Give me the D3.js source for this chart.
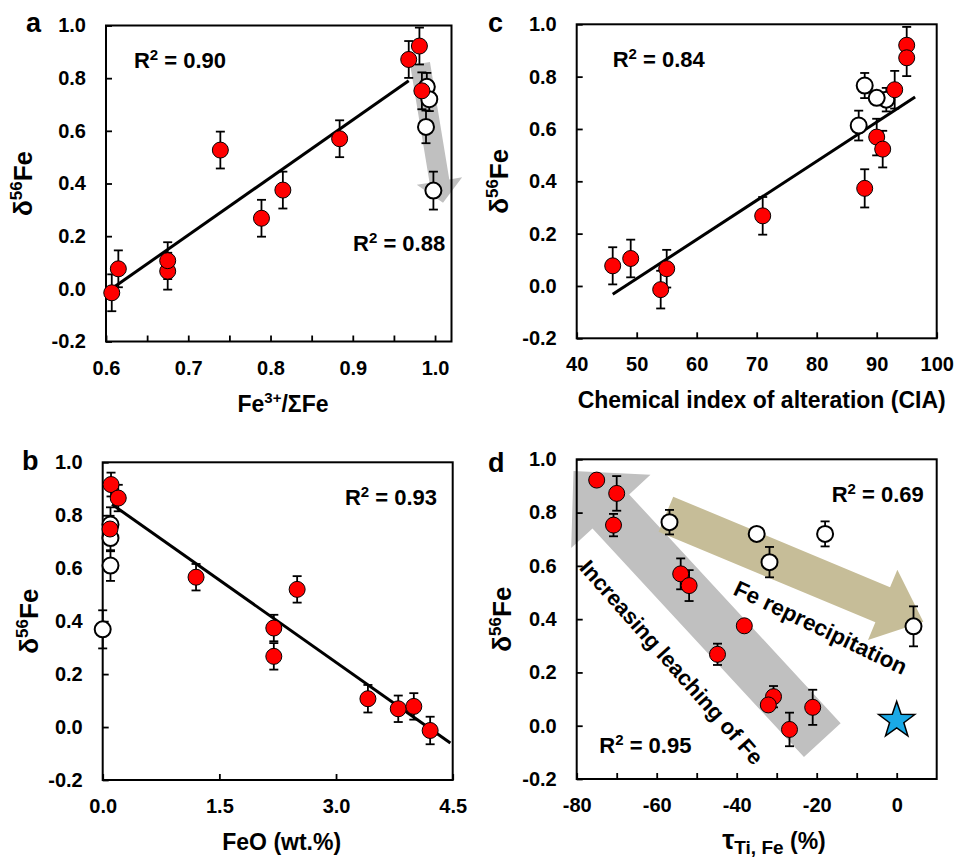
<!DOCTYPE html>
<html>
<head>
<meta charset="utf-8">
<script src="https://cdn.jsdelivr.net/npm/d3@7"></script>
<style>
  body { margin: 0; background: #fff; }
  svg { display: block; }
  text { font-family: "Liberation Sans", Arial, sans-serif; font-weight: bold; fill: #000; }
</style>
</head>
<body>
<div id="chart"></div>
<script>
// ---- data: d56Fe of the profile samples vs. four weathering indices ----
const yTicks = [-0.2, 0, 0.2, 0.4, 0.6, 0.8, 1.0];

// panel a: Fe3+/SumFe
const aRedX = [0.607, 0.615, 0.675, 0.675, 0.739, 0.789, 0.815, 0.884, 0.968, 0.981, 0.984];
const aRedY = [-0.015, 0.076, 0.067, 0.107, 0.527, 0.268, 0.375, 0.57, 0.871, 0.922, 0.752];
const aRedErr = [0.07, 0.07, 0.07, 0.07, 0.07, 0.07, 0.07, 0.07, 0.07, 0.07, 0.07];
const aOpenX = [0.990, 0.993, 0.989, 0.998];
const aOpenY = [0.767, 0.72, 0.615, 0.373];
const aOpenErr = [0.053, 0.045, 0.062, 0.072];
const aFit = [[0.609, 0.005], [0.968, 0.79]];
const aXTicks = [0.6, 0.65, 0.7, 0.75, 0.8, 0.85, 0.9, 0.95, 1.0];

// panel b: FeO (wt.%)
const bRedX = [0.107, 0.2, 0.094, 1.2, 2.2, 2.2, 2.5, 3.41, 3.8, 4.0, 4.21];
const bRedY = [0.916, 0.865, 0.748, 0.566, 0.374, 0.267, 0.52, 0.107, 0.069, 0.078, -0.013];
const bRedErr = [0.045, 0.05, 0.05, 0.05, 0.05, 0.05, 0.05, 0.052, 0.05, 0.05, 0.052];
const bOpenX = [0.1, 0.1, 0.1, 0.0];
const bOpenY = [0.765, 0.714, 0.61, 0.369];
const bOpenErr = [0.065, 0.05, 0.058, 0.072];
const bFit = [[0.12, 0.841], [4.47, -0.06]];
const bXTicks = [0, 1.5, 3.0, 4.5];

// panel c: chemical index of alteration
const cRedX = [46, 49, 54, 55, 71, 88, 90, 91, 93, 95, 95];
const cRedY = [0.077, 0.105, -0.014, 0.066, 0.268, 0.373, 0.569, 0.523, 0.75, 0.92, 0.872];
const cRedErr = [0.071, 0.072, 0.072, 0.072, 0.072, 0.073, 0.07, 0.07, 0.072, 0.07, 0.07];
const cOpenX = [91.6, 88, 90, 87];
const cOpenY = [0.712, 0.766, 0.719, 0.613];
const cOpenErr = [0.045, 0.048, 0, 0.057];
const cFit = [[46, -0.032], [96.4, 0.722]];
const cXTicks = [40, 50, 60, 70, 80, 90, 100];

// panel d: tau Ti,Fe (%)
const dRedX = [-75, -70, -70.8, -54, -51.9, -38.1, -44.8, -30.8, -32.1, -21, -26.8];
const dRedY = [0.922, 0.872, 0.753, 0.57, 0.526, 0.375, 0.268, 0.109, 0.078, 0.069, -0.014];
const dRedErr = [0, 0.065, 0.042, 0.058, 0.058, 0, 0.04, 0.04, 0, 0.066, 0.063];
const dOpenX = [-56.8, -35, -31.8, -17.9, 4.2];
const dOpenY = [0.764, 0.72, 0.614, 0.72, 0.373];
const dOpenErr = [0.046, 0, 0.057, 0.047, 0.075];
const dStar = [0, 0.02];
const dXTicks = [-80, -70, -60, -50, -40, -30, -20, -10, 0];

const svg = d3.select("#chart").append("svg")
  .attr("width", 957)
  .attr("height", 858);

function zip(xs, ys, es) {
  return xs.map((x, i) => ({ x: x, y: ys[i], e: es[i] }));
}

// wide block arrow as a polygon, ends given in pixels
function arrowShape(x0, y0, x1, y1, sw, hw, hl) {
  const L = Math.hypot(x1 - x0, y1 - y0);
  const ux = (x1 - x0) / L, uy = (y1 - y0) / L;
  const nx = -uy, ny = ux;
  const bx = x1 - ux * hl, by = y1 - uy * hl;
  return [
    [x0 + nx * sw, y0 + ny * sw], [bx + nx * sw, by + ny * sw], [bx + nx * hw, by + ny * hw],
    [x1, y1],
    [bx - nx * hw, by - ny * hw], [bx - nx * sw, by - ny * sw], [x0 - nx * sw, y0 - ny * sw]
  ];
}

function r2Label(g, x, y, val) {
  const t = g.append("text").attr("x", x).attr("y", y).style("font-size", "22px");
  t.append("tspan").text("R");
  t.append("tspan").attr("dy", -8).style("font-size", "15px").text("2");
  t.append("tspan").attr("dy", 8).text(" = " + val);
}

function makePanel(cfg) {
  const x = d3.scaleLinear().domain(cfg.xDomain).range([cfg.left, cfg.left + cfg.w]);
  const y = d3.scaleLinear().domain([-0.2, 1.0]).range([cfg.top + cfg.h, cfg.top]);
  const g = svg.append("g");

  // background arrows first
  const arrows = g.append("g");
  (cfg.arrows || []).forEach(a => {
    const pts = arrowShape(x(a.from[0]), y(a.from[1]), x(a.to[0]), y(a.to[1]), a.sw, a.hw, a.hl);
    arrows.append("path")
      .attr("d", d3.line()(pts) + "Z")
      .attr("fill", a.color);
  });

  // axes, ticks pointing inward
  const xAxis = d3.axisBottom(x).tickValues(cfg.xTicks).tickSize(-6).tickPadding(19)
    .tickFormat(cfg.xFormat);
  const yAxis = d3.axisLeft(y).tickValues(yTicks).tickSize(-6).tickPadding(20)
    .tickFormat(d => d.toFixed(1));

  g.append("g").attr("transform", `translate(0,${cfg.top + cfg.h})`).call(xAxis)
    .call(s => s.select(".domain").remove());
  g.append("g").attr("transform", `translate(${cfg.left},0)`).call(yAxis)
    .call(s => s.select(".domain").remove());
  g.selectAll(".tick line").attr("stroke", "#000").attr("stroke-width", 1.8);
  g.selectAll(".tick text").style("font-size", "20px").attr("font-family", null).attr("font-size", null);

  g.append("rect")
    .attr("x", cfg.left).attr("y", cfg.top)
    .attr("width", cfg.w).attr("height", cfg.h)
    .attr("fill", "none").attr("stroke", "#000").attr("stroke-width", 2);

  if (cfg.fit) {
    g.append("line")
      .attr("x1", x(cfg.fit[0][0])).attr("y1", y(cfg.fit[0][1]))
      .attr("x2", x(cfg.fit[1][0])).attr("y2", y(cfg.fit[1][1]))
      .attr("stroke", "#000").attr("stroke-width", 3);
  }

  const all = cfg.open.concat(cfg.red).filter(d => d.e > 0);
  const eb = g.append("g").attr("stroke", "#000").attr("stroke-width", 1.8);
  all.forEach(d => {
    eb.append("line").attr("x1", x(d.x)).attr("x2", x(d.x)).attr("y1", y(d.y - d.e)).attr("y2", y(d.y + d.e));
    [d.y - d.e, d.y + d.e].forEach(v => {
      eb.append("line").attr("x1", x(d.x) - 4.5).attr("x2", x(d.x) + 4.5).attr("y1", y(v)).attr("y2", y(v));
    });
  });

  g.append("g").selectAll("circle").data(cfg.open).join("circle")
    .attr("cx", d => x(d.x)).attr("cy", d => y(d.y)).attr("r", 8)
    .attr("fill", "#fff").attr("stroke", "#000").attr("stroke-width", 2);
  g.append("g").selectAll("circle").data(cfg.red).join("circle")
    .attr("cx", d => x(d.x)).attr("cy", d => y(d.y)).attr("r", 8)
    .attr("fill", "#f00").attr("stroke", "#000").attr("stroke-width", 1);

  (cfg.r2 || []).forEach(r => r2Label(g, x(r.at[0]), y(r.at[1]), r.val));

  // panel letter
  g.append("text").attr("x", cfg.letterPos[0]).attr("y", cfg.letterPos[1])
    .style("font-size", "27px").text(cfg.letter);

  // y title: d56Fe
  const yc = cfg.top + cfg.h / 2;
  const yt = g.append("text")
    .attr("transform", `translate(${cfg.yTitleX},${yc}) rotate(-90)`)
    .attr("text-anchor", "middle").style("font-size", "26px");
  yt.append("tspan").text("δ");
  yt.append("tspan").attr("dy", -10).style("font-size", "17px").text("56");
  yt.append("tspan").attr("dy", 10).text("Fe");

  cfg.xTitle(g.append("text")
    .attr("x", cfg.xTitlePos[0]).attr("y", cfg.xTitlePos[1])
    .attr("text-anchor", "middle").style("font-size", "23px"));

  return { g, x, y };
}

// a
makePanel({
  letter: "a", letterPos: [26, 32],
  left: 106, top: 25.5, w: 345.5, h: 316, xDomain: [0.6, 1.02],
  xTicks: aXTicks,
  xFormat: d => (Math.round(d * 100) % 10 === 0 ? d.toFixed(1) : ""),
  red: zip(aRedX, aRedY, aRedErr), open: zip(aOpenX, aOpenY, aOpenErr), fit: aFit,
  arrows: [{ from: [0.9818, 0.855], to: [1.0097, 0.327], sw: 10, hw: 23, hl: 22, color: "#c0c0c0" }],
  r2: [{ at: [0.634, 0.84], val: "0.90" }, { at: [0.9003, 0.145], val: "0.88" }],
  yTitleX: 32, xTitlePos: [283, 412],
  xTitle: t => {
    t.append("tspan").text("Fe");
    t.append("tspan").attr("dy", -9).style("font-size", "15px").text("3+");
    t.append("tspan").attr("dy", 9).text("/ΣFe");
  }
});

// c
makePanel({
  letter: "c", letterPos: [488, 32],
  left: 576.7, top: 24.3, w: 360, h: 314, xDomain: [40, 100],
  xTicks: cXTicks, xFormat: d => String(d),
  red: zip(cRedX, cRedY, cRedErr), open: zip(cOpenX, cOpenY, cOpenErr), fit: cFit,
  r2: [{ at: [46, 0.837], val: "0.84" }],
  yTitleX: 508, xTitlePos: [761.7, 408],
  xTitle: t => t.text("Chemical index of alteration (CIA)")
});

// b
makePanel({
  letter: "b", letterPos: [22, 470],
  left: 102.7, top: 462.3, w: 350, h: 317.7, xDomain: [0, 4.5],
  xTicks: bXTicks, xFormat: d => d.toFixed(1),
  red: zip(bRedX, bRedY, bRedErr), open: zip(bOpenX, bOpenY, bOpenErr), fit: bFit,
  r2: [{ at: [3.115, 0.839], val: "0.93" }],
  yTitleX: 38, xTitlePos: [281.7, 850],
  xTitle: t => t.text("FeO (wt.%)")
});

// d
const pd = makePanel({
  letter: "d", letterPos: [488, 472],
  left: 576.7, top: 459.3, w: 360, h: 319.7, xDomain: [-80, 10],
  xTicks: dXTicks, xFormat: d => (d % 20 === 0 ? String(d) : ""),
  red: zip(dRedX, dRedY, dRedErr), open: zip(dOpenX, dOpenY, dOpenErr),
  arrows: [
    { from: [-18.6, -0.054], to: [-80.8, 0.956], sw: 25, hw: 54, hl: 55, color: "#c0c0c0" },
    { from: [-57.7, 0.794], to: [6.65, 0.39], sw: 19, hw: 38, hl: 44, color: "#c6bd98" }
  ],
  r2: [{ at: [-16.25, 0.841], val: "0.69" }, { at: [-74.35, -0.101], val: "0.95" }],
  yTitleX: 511, xTitlePos: [774, 849],
  xTitle: t => {
    t.append("tspan").style("font-size", "27px").text("τ");
    t.append("tspan").attr("dy", 5).style("font-size", "19px").text("Ti, Fe");
    t.append("tspan").attr("dy", -5).text(" (%)");
  }
});

// arrow labels in panel d
pd.g.append("text")
  .attr("transform", `translate(${pd.x(-56.25)},${pd.y(0.238)}) rotate(48.5)`)
  .attr("text-anchor", "middle").attr("dy", "0.35em")
  .style("font-size", "22px").text("Increasing leaching of Fe");
pd.g.append("text")
  .attr("transform", `translate(${pd.x(-19)},${pd.y(0.369)}) rotate(25.5)`)
  .attr("text-anchor", "middle").attr("dy", "0.35em")
  .style("font-size", "22.5px").text("Fe reprecipitation");

// star marker
const starPts = d3.range(10).map(i => {
  const a = -Math.PI / 2 + i * Math.PI / 5;
  const r = i % 2 === 0 ? 19 : 7.5;
  return [r * Math.cos(a), r * Math.sin(a)];
});
pd.g.append("path")
  .attr("transform", `translate(${pd.x(dStar[0])},${pd.y(dStar[1])})`)
  .attr("d", d3.line()(starPts) + "Z")
  .attr("fill", "#1aa9e6").attr("stroke", "#000").attr("stroke-width", 1.5);
</script>
</body>
</html>
